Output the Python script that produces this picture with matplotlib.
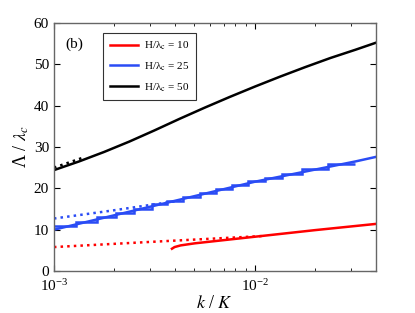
import matplotlib
matplotlib.use('Agg')
import matplotlib.pyplot as plt
import numpy as np

plt.rcParams['font.family'] = ['Liberation Serif', 'DejaVu Serif']
plt.rcParams['mathtext.fontset'] = 'stix'

# H/lambda_c = 50 (black)
black_logk = [-3.0, -2.875, -2.75, -2.625, -2.5, -2.375, -2.25, -2.125,
              -2.0, -1.875, -1.75, -1.625, -1.5, -1.398]
black_v = [24.4, 26.5, 28.8, 31.3, 34.0, 36.8, 39.5, 42.1,
           44.6, 47.0, 49.3, 51.5, 53.5, 55.2]
black_dot_logk = [-3.0, -2.85]
black_dot_v = [25.0, 27.5]

# H/lambda_c = 25 (blue), smooth branch
blue_logk = [-3.0, -2.5, -2.0, -1.5, -1.398]
blue_v = [10.0, 15.8, 21.6, 26.5, 27.6]
# blue stepped branch: jump positions and level between jumps
step_k = [1e-3, 0.001285, 0.001637, 0.002032, 0.0025, 0.003076, 0.003648,
          0.004385, 0.005321, 0.0064, 0.00769, 0.009226, 0.01122, 0.01361,
          0.01714, 0.02307, 0.03148]
step_v = [11.0, 11.9, 13.0, 14.1, 15.1, 16.1, 17.0, 17.9, 18.9, 19.8,
          20.7, 21.7, 22.5, 23.4, 24.6, 25.9]
blue_dot_logk = [-3.0, -2.7, -2.35]
blue_dot_v = [12.7, 14.7, 17.2]

# H/lambda_c = 10 (red)
red_logk = [-2.413, -2.40, -2.37, -2.30, -2.0, -1.7, -1.398]
red_v = [5.4, 5.8, 6.2, 6.7, 8.3, 9.9, 11.4]
red_dot_logk = [-3.0, -2.5, -1.95]
red_dot_v = [5.8, 7.1, 8.5]

k = lambda lk: 10.0 ** np.array(lk)

fig = plt.figure(figsize=(4.15, 3.13), dpi=100)
ax = fig.add_axes([0.130, 0.134, 0.776, 0.793])

lw = 1.8
blue = '#2a4cf5'
ax.plot(k(red_dot_logk), red_dot_v, ':', color='red', lw=lw)
ax.plot(k(blue_dot_logk), blue_dot_v, ':', color=blue, lw=lw)
ax.plot(k(black_dot_logk), black_dot_v, ':', color='black', lw=lw)

ax.plot(k(red_logk), red_v, '-', color='red', lw=lw, label=r'H/λ$_\mathrm{c}$ = 10')
ax.plot(k(blue_logk), blue_v, '-', color=blue, lw=lw, label=r'H/λ$_\mathrm{c}$ = 25')
ax.stairs(step_v, step_k, color=blue, lw=lw, baseline=None)
ax.plot(k(black_logk), black_v, '-', color='black', lw=lw, label=r'H/λ$_\mathrm{c}$ = 50')

ax.set_xscale('log')
ax.set_xlim(1e-3, 0.04)
ax.set_ylim(0, 60)
ax.set_yticks(range(0, 61, 10))
ax.tick_params(which='both', direction='in', top=True, right=True, labelsize=11)
ax.tick_params(which='major', length=4)
ax.tick_params(which='minor', length=2.5)
ax.tick_params(axis='x', pad=5)
for s in ax.spines.values():
    s.set_color('0.4')
    s.set_linewidth(1.0)

ax.set_xlabel(r'$k$ / $K$', fontsize=13, labelpad=1)
ax.set_ylabel(r'Λ / $\lambda_c$', fontsize=13, labelpad=2)
ax.text(0.035, 0.915, '(b)', transform=ax.transAxes, fontsize=11, va='center')

leg = ax.legend(loc='upper left', bbox_to_anchor=(0.152, 0.96), fontsize=8,
                frameon=True, fancybox=False, edgecolor='black',
                handlelength=2.6, handletextpad=0.5, borderpad=0.6,
                labelspacing=0.75, borderaxespad=0)
leg.get_frame().set_linewidth(0.8)

fig.savefig('out.png', dpi=100)
